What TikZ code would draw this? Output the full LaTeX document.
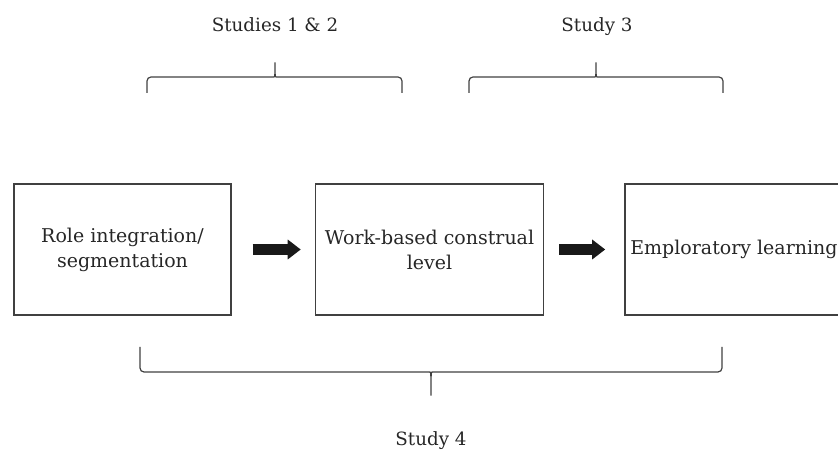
\documentclass[tikz,border=0pt]{standalone}
\usepackage{fontspec}
\setmainfont{DejaVu Serif}
\usetikzlibrary{arrows.meta, positioning}
\tikzset{
  stagebox/.style={rectangle, draw=black!75, line width=1pt, minimum height=3.275cm,
                   align=center, inner sep=0pt, text=black!85,
                   font=\fontsize{13.5}{17.8}\selectfont},
  flowarrow/.style={line width=0.275cm, -{Triangle[length=0.325cm, width=0.475cm]}, black!90},
  bracket/.style={draw=black!75, line width=0.85pt, rounded corners=0.1cm},
  studylabel/.style={anchor=base, text=black!85, font=\fontsize{13}{15.6}\selectfont},
}
\begin{document}
\begin{tikzpicture}[x=0.025cm, y=-0.025cm]
  \useasboundingbox (0,0) rectangle (838,457);
  % stages
  \node[stagebox, minimum width=5.425cm] (role) at (122.5,249.5) {Role integration/\\segmentation};
  \node[stagebox, minimum width=5.7cm, right=2.075cm of role] (construal) {Work-based construal\\level};
  \node[stagebox, minimum width=5.45cm, right=2cm of construal] (learning) {Emploratory learning};

  \draw[flowarrow, shorten <=0.525cm, shorten >=0.35cm] (role) -- (construal);
  \draw[flowarrow, shorten <=0.375cm, shorten >=0.475cm] (construal) -- (learning);

  % studies
  \node[studylabel] (studyA) at (275,31.5) {Studies 1 \& 2};
  \node[studylabel] (studyB) at (597,31.5) {Study 3};
  \node[studylabel] (studyC) at (431,446) {Study 4};

  \draw[bracket] (147,93) |- (270,77) .. controls (275,77) and (275,73) .. (275,60)
    .. controls (275,73) and (275,77) .. (280,77) -| (402,93);
  \draw[bracket] (469,93) |- (591,77) .. controls (596,77) and (596,73) .. (596,60)
    .. controls (596,73) and (596,77) .. (601,77) -| (723,93);
  \draw[bracket] (140,347) |- (426,372) .. controls (431,372) and (431,377) .. (431,398)
    .. controls (431,377) and (431,372) .. (436,372) -| (722,347);
\end{tikzpicture}
\end{document}
